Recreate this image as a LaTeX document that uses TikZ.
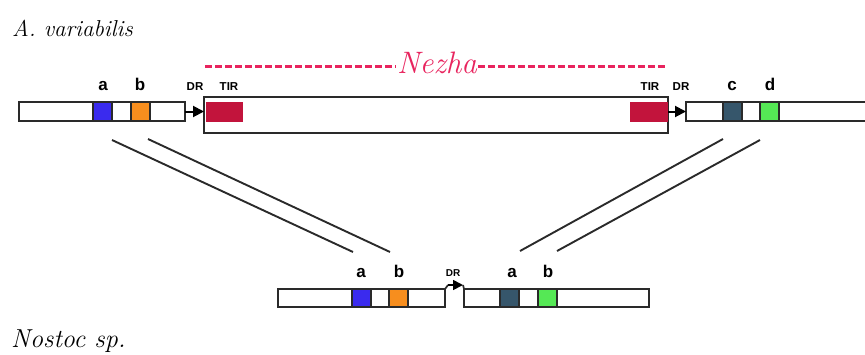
\documentclass[tikz,border=0pt]{standalone}
\usepackage{fontspec}
\newfontfamily\labfont{Liberation Sans}
\usetikzlibrary{arrows.meta}
\definecolor{boxline}{HTML}{2A2A2A}
\definecolor{nezhared}{HTML}{E8245E}
\definecolor{tirred}{HTML}{C2143C}
\definecolor{cblue}{HTML}{3A2BEE}
\definecolor{corange}{HTML}{F78E1E}
\definecolor{cteal}{HTML}{36566B}
\definecolor{cgreen}{HTML}{55E855}
\tikzset{
  seg/.style={draw=boxline, line width=1.7pt, fill=white, inner sep=0pt, outer sep=0pt, anchor=north west, minimum height=#1},
  seg/.default=19pt,
  blk/.style={draw=boxline, line width=1.7pt, fill=#1, inner sep=0pt, outer sep=0pt, anchor=north west, minimum height=19pt, minimum width=19pt},
  tir/.style={fill=tirred, inner sep=0pt, outer sep=0pt, anchor=north west, minimum height=20pt, minimum width=37pt},
  gene/.style={font=\labfont\bfseries\fontsize{17}{17}\selectfont, anchor=base, inner sep=0pt},
  tag/.style={font=\labfont\bfseries\fontsize{11.5}{11.5}\selectfont, anchor=base, inner sep=0pt},
  tagsmall/.style={font=\labfont\bfseries\fontsize{10}{10}\selectfont, anchor=base, inner sep=0pt},
  species/.style={font=\itshape\fontsize{#1}{#1}\selectfont, anchor=base west, inner sep=0pt},
  drarrow/.style={draw=black, line width=2pt, -{Triangle[length=11pt,width=11pt]}},
  link/.style={draw=boxline, line width=1.9pt},
  nezhaline/.style={draw=nezhared, line width=3pt, dash pattern=on 7pt off 3pt}
}
\begin{document}
\begin{tikzpicture}[x=1pt,y=-1pt]
\useasboundingbox (0,0) rectangle (865,354);
\clip (0,0) rectangle (865,354);

% titles
\node[species=23] (av) at (12,36) {A. variabilis};
\node[species=26] (ns) at (11,347) {Nostoc sp.};

% Nezha label and dashed line
\node[font=\itshape\fontsize{31}{31}\selectfont, text=nezhared, anchor=base, inner sep=1pt] (nz) at (437,73) {Nezha};
\coordinate (nzL) at (205,66);
\coordinate (nzR) at (667,66);
\draw[nezhaline] (nzL) -- (nzL -| nz.west);
\draw[nezhaline] (nz.east |- nzR) -- (nzR);

% top strip left
\node[seg, minimum width=166pt] (TL) at (19,102) {};
\node[blk=cblue] (ta) at (93,102) {};
\node[blk=corange] (tb) at (131,102) {};

% Nezha box
\node[seg=36pt, minimum width=464pt] (NB) at (204,97) {};
\node[tir] (tir1) at (206,102) {};
\node[tir, minimum width=38pt] (tir2) at (630,102) {};

% top strip right
\node[seg, minimum width=200pt] (TR) at (686,102) {};
\node[blk=cteal] (tc) at (723,102) {};
\node[blk=cgreen] (td) at (760,102) {};

% DR arrows
\draw[drarrow] (TL.east) -- (TL.east -| NB.west);
\draw[drarrow] (NB.east |- TR.west) -- (TR.west);

% top labels
\node[gene] (la) at (103,90) {a};
\node[gene] (lb) at (140,90) {b};
\node[tag] (ldr1) at (195,90.5) {DR};
\node[tag] (ltir1) at (229,90.5) {TIR};
\node[tag] (ltir2) at (650,90.5) {TIR};
\node[tag] (ldr2) at (681,90.5) {DR};
\node[gene] (lc) at (732,90) {c};
\node[gene] (ld) at (770,90) {d};

% bottom strips
\node[seg=18pt, minimum width=167pt] (BL) at (278,289) {};
\node[blk=cblue, minimum height=18pt] (ba) at (352,289) {};
\node[blk=corange, minimum height=18pt] (bb) at (389,289) {};
\node[seg=18pt, minimum width=185pt] (BR) at (464,289) {};
\node[blk=cteal, minimum height=18pt] (bc) at (500,289) {};
\node[blk=cgreen, minimum height=18pt] (bd) at (538,289) {};

% bottom DR arrow
\coordinate (bdr1) at (448,285);
\coordinate (bdr2) at (463,285);
\draw[line width=1.7pt, draw=boxline] (BL.north east) -- (bdr1);
\draw[drarrow, line width=1.7pt, -{Triangle[length=10pt,width=10pt]}] (bdr1) -- (bdr2);
\draw[line width=1.7pt, draw=boxline] (bdr2) -- (BR.north west);

% bottom labels
\node[gene] (lba) at (361,277) {a};
\node[gene] (lbb) at (399,277) {b};
\node[tagsmall] (lbdr) at (453,276) {DR};
\node[gene] (lbc) at (512,277) {a};
\node[gene] (lbd) at (548,277) {b};

% crossing lines
\coordinate (p1) at (112,140); \coordinate (q1) at (353,252);
\coordinate (p2) at (148,139); \coordinate (q2) at (390,252);
\coordinate (p3) at (723,139); \coordinate (q3) at (520,251);
\coordinate (p4) at (760,140); \coordinate (q4) at (557,251);
\draw[link] (p1) -- (q1);
\draw[link] (p2) -- (q2);
\draw[link] (p3) -- (q3);
\draw[link] (p4) -- (q4);
\end{tikzpicture}
\end{document}
